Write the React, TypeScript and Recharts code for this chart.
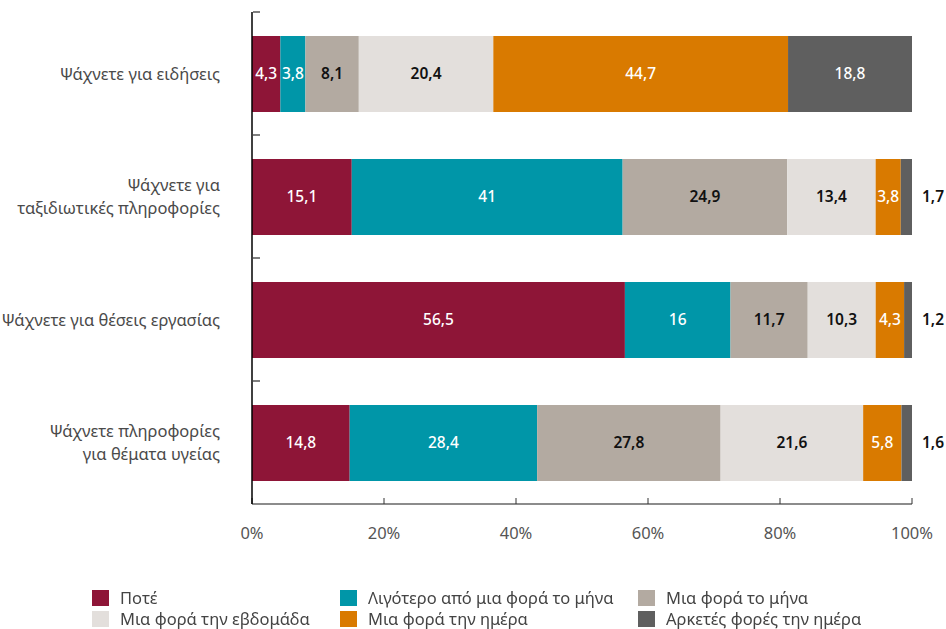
import * as R from "recharts";
import {
  BarChart,
  Bar,
  XAxis,
  YAxis,
  Legend,
  LabelList,
  Customized,
} from "recharts";

const categories = [
  "Ψάχνετε για ειδήσεις",
  "Ψάχνετε για\nταξιδιωτικές πληροφορίες",
  "Ψάχνετε για θέσεις εργασίας",
  "Ψάχνετε πληροφορίες\nγια θέματα υγείας",
];

const seriesNames = [
  "Ποτέ",
  "Λιγότερο από μια φορά το μήνα",
  "Μια φορά το μήνα",
  "Μια φορά την εβδομάδα",
  "Μια φορά την ημέρα",
  "Αρκετές φορές την ημέρα",
];

const never = [4.3, 15.1, 56.5, 14.8];
const lessThanMonthly = [3.8, 41, 16, 28.4];
const monthly = [8.1, 24.9, 11.7, 27.8];
const weekly = [20.4, 13.4, 10.3, 21.6];
const daily = [44.7, 3.8, 4.3, 5.8];
const severalDaily = [18.8, 1.7, 1.2, 1.6];

const xTicks = [0, 0.2, 0.4, 0.6, 0.8, 1];

const FONT = "'Noto Sans', 'DejaVu Sans', sans-serif";

const series = [
  { key: "s0", values: never, fill: "#8E1537", text: "#ffffff" },
  { key: "s1", values: lessThanMonthly, fill: "#0096A8", text: "#ffffff" },
  { key: "s2", values: monthly, fill: "#B3AAA1", text: "#111111" },
  { key: "s3", values: weekly, fill: "#E3DFDC", text: "#111111" },
  { key: "s4", values: daily, fill: "#D97A00", text: "#ffffff" },
  { key: "s5", values: severalDaily, fill: "#5F5F5F", text: "#ffffff" },
];

const rows = categories.map((name, i) => {
  const row: Record<string, string | number> = { name };
  series.forEach((s) => {
    row[s.key] = s.values[i];
  });
  return row;
});

const fmt = (v: number) => String(v).replace(".", ",");

const makeLabel = (values: number[], color: string, outside: boolean) =>
  (props: any) => {
    const x = Number(props.x);
    const y = Number(props.y);
    const w = Number(props.width);
    const h = Number(props.height);
    const v = values[props.index];
    if (v == null) return null;
    if (outside && w < 20) {
      return (
        <text
          x={x + w + 10}
          y={y + h / 2}
          dy="0.35em"
          textAnchor="start"
          fill="#111"
          fontSize={15.5}
          fontWeight={600}
          fontFamily={FONT}
        >
          {fmt(v)}
        </text>
      );
    }
    return (
      <text
        x={x + w / 2}
        y={y + h / 2}
        dy="0.35em"
        textAnchor="middle"
        fill={color}
        fontSize={15.5}
        fontWeight={color === "#ffffff" ? 500 : 600}
        fontFamily={FONT}
      >
        {fmt(v)}
      </text>
    );
  };

function CategoryTick(props: any) {
  const { x, y, payload } = props;
  const lines = String(payload.value).split("\n");
  const lh = 23;
  return (
    <text
      x={x}
      y={y}
      textAnchor="end"
      fill="#4a4a4a"
      fontSize={16.5}
      fontFamily={FONT}
    >
      {lines.map((l, i) => (
        <tspan
          key={i}
          x={x}
          dy={i === 0 ? -((lines.length - 1) * lh) / 2 + 6 : lh}
        >
          {l}
        </tspan>
      ))}
    </text>
  );
}

// small dashes on the category boundaries, right of the y axis
function BandTicks() {
  const hook: any = (R as any).usePlotArea;
  const area = hook ? hook() : null;
  if (!area) return null;
  const band = area.height / categories.length;
  return (
    <g>
      {categories.map((_, i) => (
        <line
          key={i}
          x1={area.x + 1}
          x2={area.x + 8}
          y1={area.y + i * band}
          y2={area.y + i * band}
          stroke="#555"
          strokeWidth={1.5}
        />
      ))}
    </g>
  );
}

function LegendGrid(props: any) {
  const payload = [...(props.payload || [])].sort(
    (a: any, b: any) => seriesNames.indexOf(a.value) - seriesNames.indexOf(b.value)
  );
  return (
    <div
      style={{
        display: "grid",
        gridTemplateColumns: "248px 298px 300px",
        gridAutoRows: "21px",
        paddingLeft: 92,
        paddingTop: 7,
        height: 46,
        boxSizing: "border-box",
        fontFamily: FONT,
        fontSize: 16.5,
        color: "#444",
      }}
    >
      {payload.map((p: any, i: number) => (
        <div
          key={i}
          style={{ display: "flex", alignItems: "flex-start", height: 21 }}
        >
          <span
            style={{
              display: "inline-block",
              flex: "none",
              width: 17,
              height: 16,
              background: p.color,
              marginRight: 11,
            }}
          />
          <span style={{ lineHeight: "16px", whiteSpace: "nowrap" }}>{p.value}</span>
        </div>
      ))}
    </div>
  );
}

export default function App() {
  return (
    <div style={{ position: "fixed", top: 0, left: 0, background: "#fff" }}>
      <BarChart
        width={946}
        height={629}
        data={rows}
        layout="vertical"
        stackOffset="expand"
        barSize={76}
        margin={{ top: 12, right: 34, left: 0, bottom: 0 }}
      >
        <XAxis
          type="number"
          domain={[0, 1]}
          ticks={xTicks}
          tickFormatter={(v: number) => `${Math.round(v * 100)}%`}
          height={79}
          axisLine={{ stroke: "#666", strokeWidth: 1.5 }}
          tickLine={{ stroke: "#333" }}
          tickSize={-6}
          tickMargin={29}
          tick={{ fill: "#555", fontSize: 16.5, fontFamily: FONT }}
        />
        <YAxis
          type="category"
          dataKey="name"
          width={252}
          axisLine={{ stroke: "#000", strokeWidth: 1.5 }}
          tickLine={false}
          tickSize={0}
          tickMargin={32}
          tick={<CategoryTick />}
          interval={0}
        />
        <Legend
          verticalAlign="bottom"
          content={<LegendGrid />}
          wrapperStyle={{ left: 0, width: 946, bottom: 0 }}
        />
        {series.map((s, i) => (
          <Bar
            key={s.key}
            dataKey={s.key}
            name={seriesNames[i]}
            stackId="a"
            fill={s.fill}
            isAnimationActive={false}
          >
            <LabelList
              dataKey={s.key}
              content={makeLabel(s.values, s.text, i === series.length - 1)}
            />
          </Bar>
        ))}
        <Customized component={BandTicks} />
      </BarChart>
    </div>
  );
}
